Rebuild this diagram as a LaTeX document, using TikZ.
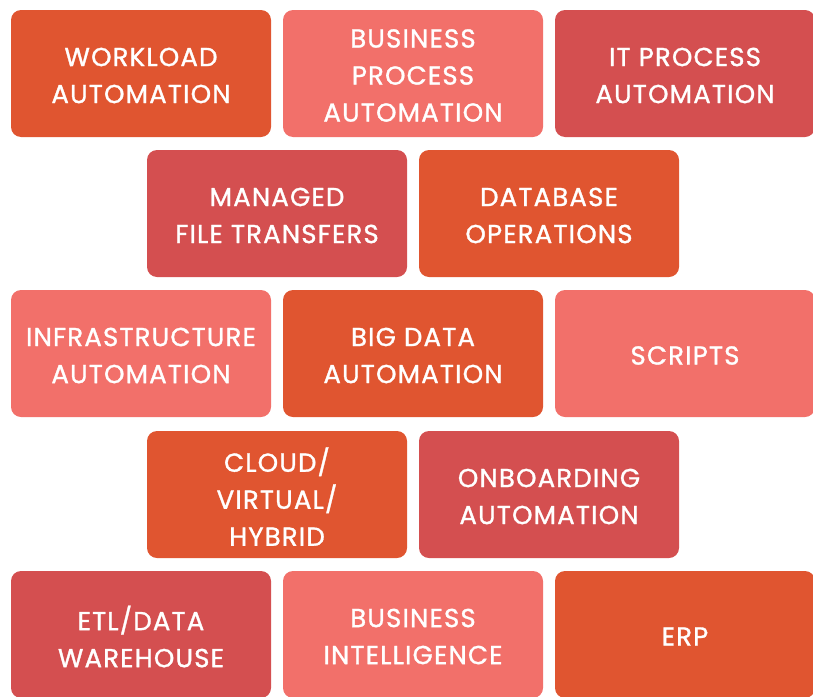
\documentclass[tikz,border=0pt]{standalone}
\usepackage{fontspec}
\setmainfont{Poppins}[LetterSpace=4.5,FakeBold=1.2]
\definecolor{cOrange}{RGB}{224,85,48}
\definecolor{cSalmon}{RGB}{242,112,106}
\definecolor{cRed}{RGB}{212,79,80}
\tikzset{
  tile/.style={rectangle, rounded corners=10pt, minimum width=260pt, minimum height=127pt,
    inner sep=0pt},
  txt/.style={align=center, text=white, inner sep=0pt, yshift=-2pt,
    font=\fontsize{26}{37}\selectfont},
  orng/.style={tile, fill=cOrange},
  slmn/.style={tile, fill=cSalmon},
  rdd/.style={tile, fill=cRed}
}
\begin{document}
\begin{tikzpicture}[x=1pt,y=-1pt]
\useasboundingbox (0,0) rectangle (813,696);
% row 1
\node[orng] (wa) at (141,73.5) {};
\node[txt] (wa-t) at (wa) {WORKLOAD\\AUTOMATION};
\node[slmn] (bpa) at (413,73.5) {};
\node[txt] (bpa-t) at (bpa) {BUSINESS\\PROCESS\\AUTOMATION};
\node[rdd] (ipa) at (685,73.5) {};
\node[txt] (ipa-t) at (ipa) {IT PROCESS\\AUTOMATION};
% row 2
\node[rdd] (mft) at (277,213.5) {};
\node[txt] (mft-t) at (mft) {MANAGED\\FILE TRANSFERS};
\node[orng] (dbo) at (549,213.5) {};
\node[txt] (dbo-t) at (dbo) {DATABASE\\OPERATIONS};
% row 3
\node[slmn] (ia) at (141,353.5) {};
\node[txt] (ia-t) at (ia) {INFRASTRUCTURE\\AUTOMATION};
\node[orng] (bda) at (413,353.5) {};
\node[txt] (bda-t) at (bda) {BIG DATA\\AUTOMATION};
\node[slmn] (scr) at (685,353.5) {};
\node[txt] (scr-t) at (scr) {SCRIPTS};
% row 4
\node[orng] (cvh) at (277,494.5) {};
\node[txt] (cvh-t) at (cvh) {CLOUD/\\VIRTUAL/\\HYBRID};
\node[rdd] (oa) at (549,494.5) {};
\node[txt] (oa-t) at (oa) {ONBOARDING\\AUTOMATION};
% row 5
\node[rdd] (etl) at (141,634.5) {};
\node[txt] (etl-t) at (etl) {ETL/DATA\\WAREHOUSE};
\node[slmn] (bi) at (413,634.5) {};
\node[txt] (bi-t) at (bi) {BUSINESS\\INTELLIGENCE};
\node[orng] (erp) at (685,634.5) {};
\node[txt] (erp-t) at (erp) {ERP};
\end{tikzpicture}
\end{document}
